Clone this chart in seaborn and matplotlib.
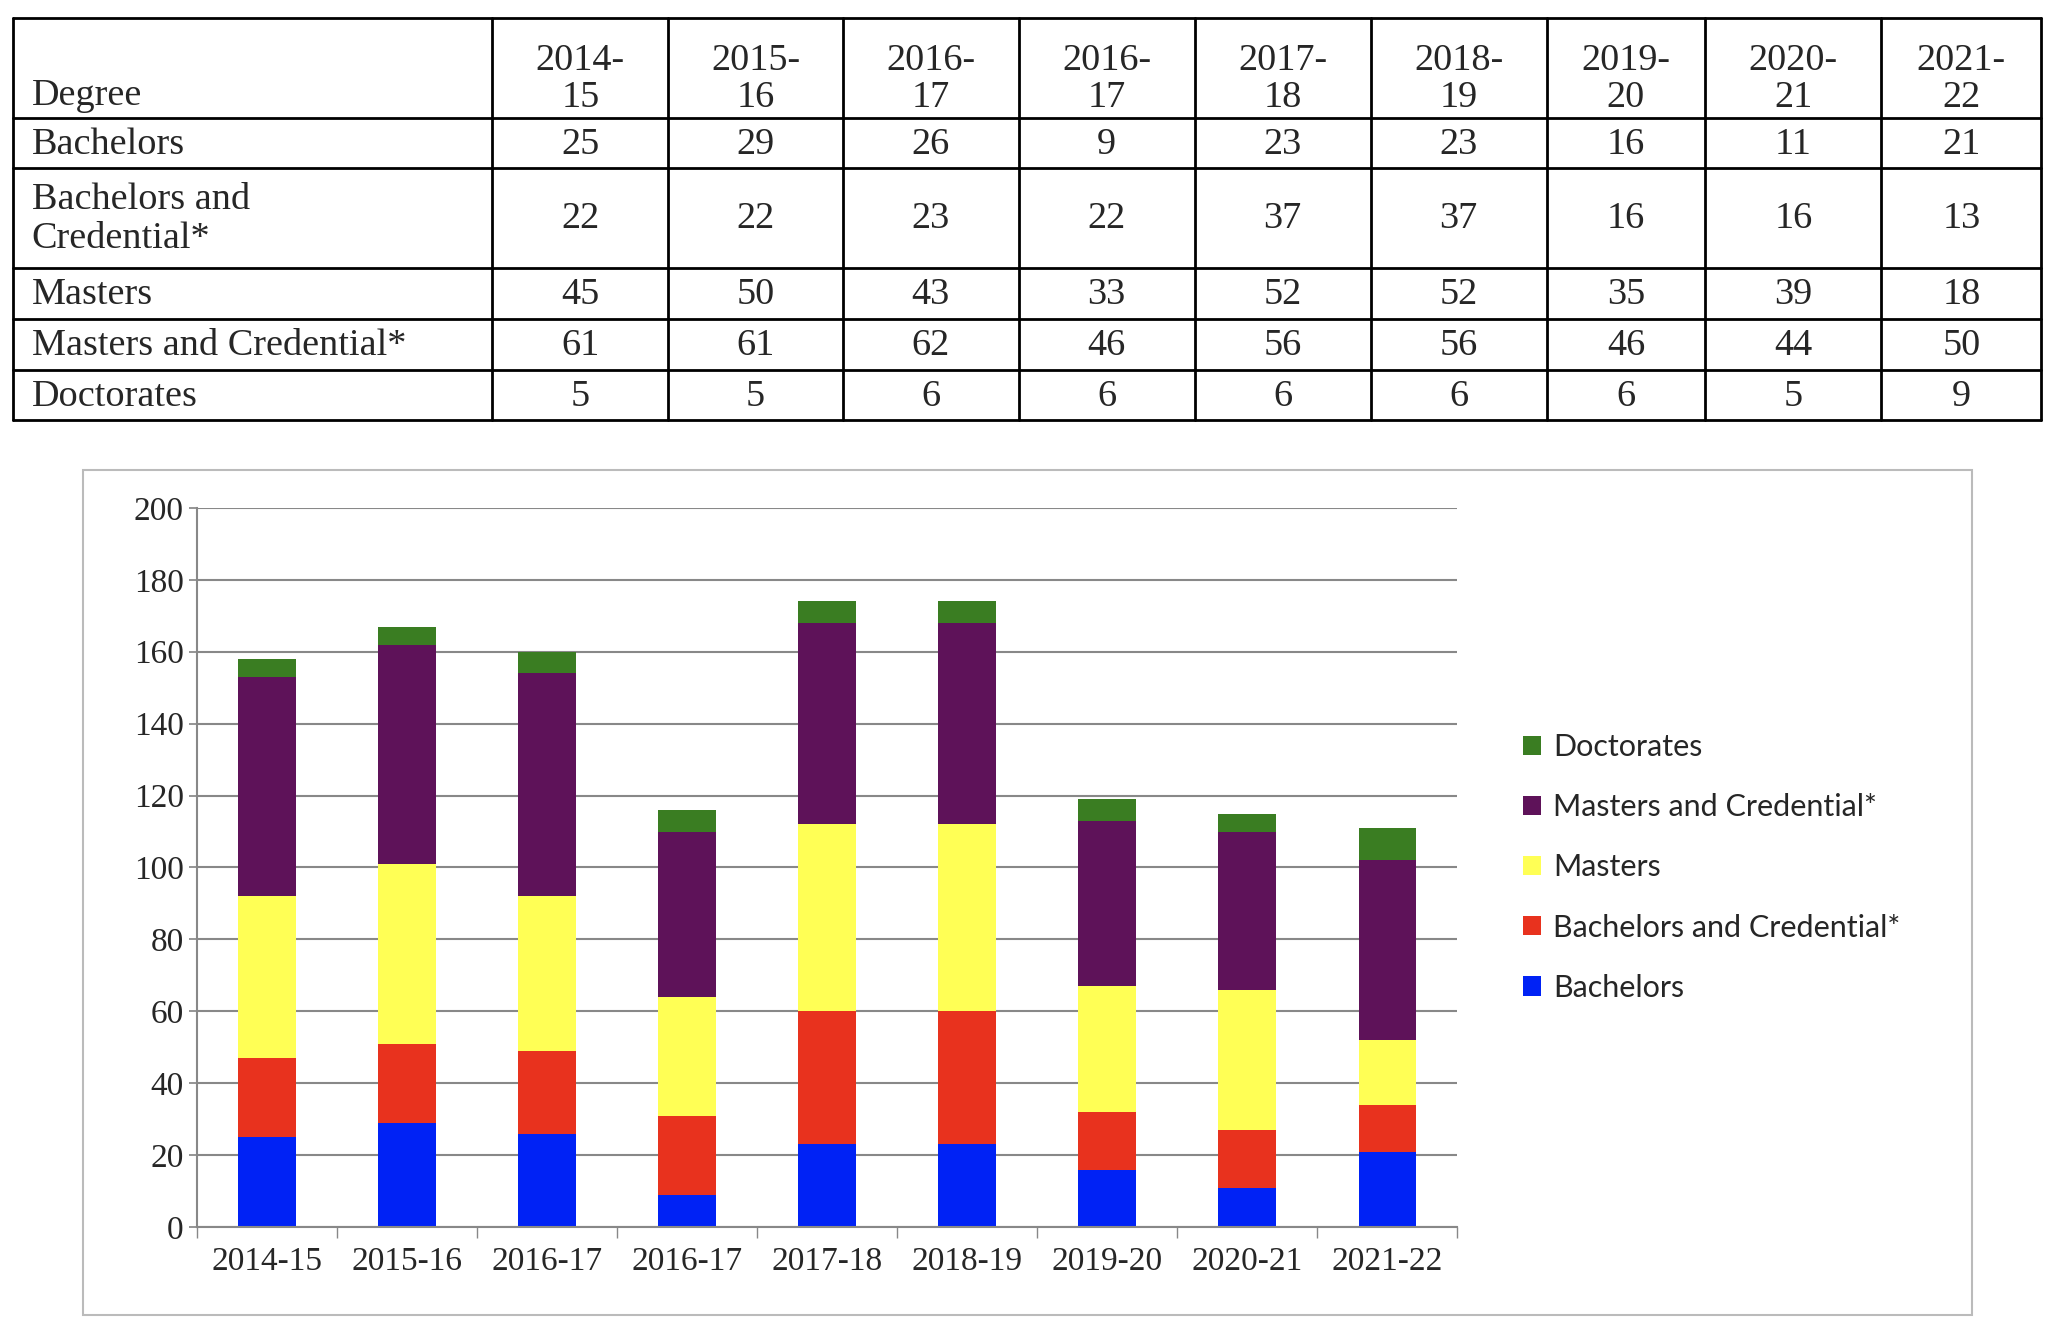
import matplotlib
matplotlib.use("Agg")
import matplotlib.pyplot as plt
import seaborn as sns
import numpy as np

years = ["2014-15", "2015-16", "2016-17", "2016-17", "2017-18",
         "2018-19", "2019-20", "2020-21", "2021-22"]
degrees = ["Bachelors", "Bachelors and Credential*", "Masters",
           "Masters and Credential*", "Doctorates"]
bachelors = [25, 29, 26, 9, 23, 23, 16, 11, 21]
bach_cred = [22, 22, 23, 22, 37, 37, 16, 16, 13]
masters = [45, 50, 43, 33, 52, 52, 35, 39, 18]
masters_cred = [61, 61, 62, 46, 56, 56, 46, 44, 50]
doctorates = [5, 5, 6, 6, 6, 6, 6, 5, 9]
series = [bachelors, bach_cred, masters, masters_cred, doctorates]
colors = ["#0022F5", "#E8321E", "#FFFF55", "#5E1259", "#3A7D22"]

sns.set_theme(style="white")
plt.rcParams["font.family"] = ["Liberation Serif", "DejaVu Serif"]

W, H = 1560, 1018  # reference layout units
fig = plt.figure(figsize=(20.48, 13.36), dpi=100)

# ---- table ----
tab = fig.add_axes([0, 0, 1, 1])
tab.set_xlim(0, W)
tab.set_ylim(H, 0)
tab.axis("off")
xs = [10, 375, 509, 642, 776, 910, 1044, 1178, 1299, 1433, 1555]
ys = [14, 90, 128, 204, 243, 282, 320]
for x in xs:
    tab.plot([x, x], [ys[0], ys[-1]], color="black", lw=2)
for y in ys:
    tab.plot([xs[0], xs[-1]], [y, y], color="black", lw=2)
fs = 27.5
tab.text(24, 86, "Degree", fontsize=fs, va="bottom")
for i, yr in enumerate(years):
    cx = (xs[i + 1] + xs[i + 2]) / 2
    a, b = yr.split("-")
    tab.text(cx, 88, a + "-\n" + b, fontsize=fs, ha="center", va="bottom",
             linespacing=1.1)
row_labels = ["Bachelors", "Bachelors and\nCredential*", "Masters",
              "Masters and Credential*", "Doctorates"]
for r, (lab, vals) in enumerate(zip(row_labels, series)):
    cy = (ys[r + 1] + ys[r + 2]) / 2
    tab.text(24, cy + 1, lab, fontsize=fs, va="center", linespacing=1.15)
    for i, v in enumerate(vals):
        cx = (xs[i + 1] + xs[i + 2]) / 2
        tab.text(cx, cy + 1, str(v), fontsize=fs, ha="center", va="center")

# chart frame
tab.add_patch(plt.Rectangle((63, 358), 1502 - 63, 1002 - 358, fill=False,
                            edgecolor="#BBBBBB", lw=1.5))

# ---- chart ----
ax = fig.add_axes([150 / W, 1 - 935 / H, (1110 - 150) / W, (935 - 387) / H])
pos = np.arange(len(years))
bottom = np.zeros(len(years))
for name, vals, c in zip(degrees, series, colors):
    sns.barplot(x=pos, y=vals, bottom=bottom, color=c, label=name,
                native_scale=True, width=0.41, ax=ax, saturation=1,
                edgecolor="none")
    bottom += np.array(vals)
ax.set_xlim(-0.5, len(years) - 0.5)
ax.set_ylim(0, 200)
ax.set_yticks(range(0, 201, 20))
ax.yaxis.grid(True, color="#888888", lw=1.5)
ax.set_axisbelow(True)
ax.set_xticks(pos)
ax.set_xticklabels(years, fontsize=24)
ax.tick_params(axis="y", labelsize=24, length=6, color="#888888", left=True)
ax.tick_params(axis="x", length=0, pad=14)
ax.set_xticks(np.arange(-0.5, len(years)), minor=True)
ax.tick_params(axis="x", which="minor", length=8, color="#888888", bottom=True)
for s in ["top", "right"]:
    ax.spines[s].set_visible(False)
for s in ["left", "bottom"]:
    ax.spines[s].set_color("#888888")
    ax.spines[s].set_linewidth(1.5)
ax.set_xlabel("")
ax.set_ylabel("")

h, l = ax.get_legend_handles_labels()
ax.legend(h[::-1], l[::-1], loc="center left", bbox_to_anchor=(1.03, 0.5),
          frameon=False, handlelength=0.6, handleheight=0.6,
          labelspacing=1.05, handletextpad=0.4,
          prop={"family": ["Lato", "DejaVu Sans"], "size": 22})

fig.savefig("out.png", dpi=100)
